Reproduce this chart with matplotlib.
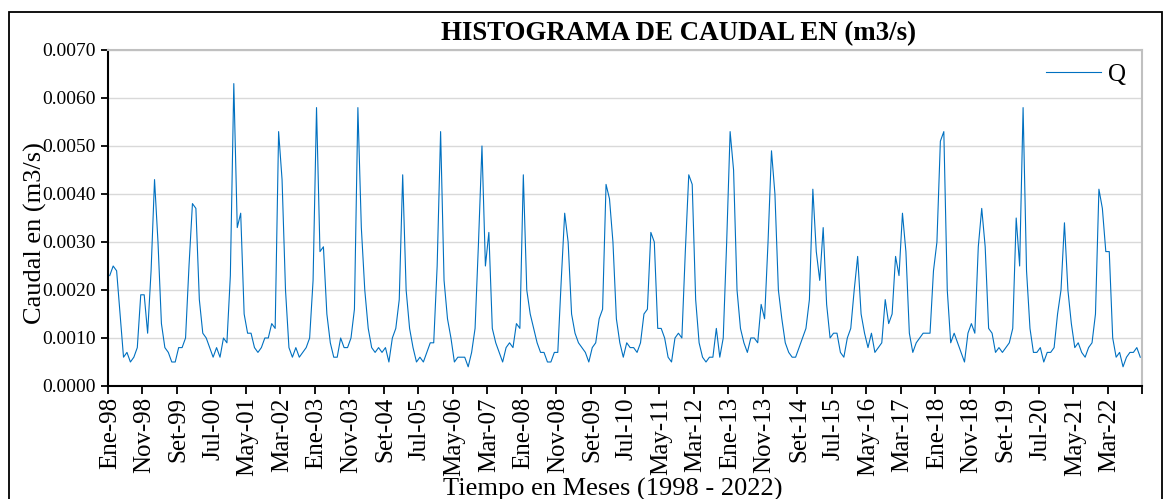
import matplotlib
matplotlib.use("Agg")
import matplotlib.pyplot as plt
from matplotlib.patches import Rectangle
import numpy as np

# Monthly discharge Q (m3/s), Jan-1998 .. Dec-2022 (in 1e-3 units)
q_milli = [
    2.3, 2.5, 2.4, 1.5, 0.6, 0.7, 0.5, 0.6, 0.8, 1.9, 1.9, 1.1,   # 1998
    2.4, 4.3, 3.0, 1.3, 0.8, 0.7, 0.5, 0.5, 0.8, 0.8, 1.0, 2.5,   # 1999
    3.8, 3.7, 1.8, 1.1, 1.0, 0.8, 0.6, 0.8, 0.6, 1.0, 0.9, 2.3,   # 2000
    6.3, 3.3, 3.6, 1.5, 1.1, 1.1, 0.8, 0.7, 0.8, 1.0, 1.0, 1.3,   # 2001
    1.2, 5.3, 4.3, 2.0, 0.8, 0.6, 0.8, 0.6, 0.7, 0.8, 1.0, 2.2,   # 2002
    5.8, 2.8, 2.9, 1.5, 0.9, 0.6, 0.6, 1.0, 0.8, 0.8, 1.0, 1.6,   # 2003
    5.8, 3.3, 2.0, 1.2, 0.8, 0.7, 0.8, 0.7, 0.8, 0.5, 1.0, 1.2,   # 2004
    1.8, 4.4, 2.0, 1.2, 0.8, 0.5, 0.6, 0.5, 0.7, 0.9, 0.9, 2.5,   # 2005
    5.3, 2.2, 1.4, 1.0, 0.5, 0.6, 0.6, 0.6, 0.4, 0.7, 1.2, 3.0,   # 2006
    5.0, 2.5, 3.2, 1.2, 0.9, 0.7, 0.5, 0.8, 0.9, 0.8, 1.3, 1.2,   # 2007
    4.4, 2.0, 1.5, 1.2, 0.9, 0.7, 0.7, 0.5, 0.5, 0.7, 0.7, 2.2,   # 2008
    3.6, 3.0, 1.5, 1.1, 0.9, 0.8, 0.7, 0.5, 0.8, 0.9, 1.4, 1.6,   # 2009
    4.2, 3.9, 3.0, 1.4, 0.9, 0.6, 0.9, 0.8, 0.8, 0.7, 0.9, 1.5,   # 2010
    1.6, 3.2, 3.0, 1.2, 1.2, 1.0, 0.6, 0.5, 1.0, 1.1, 1.0, 2.8,   # 2011
    4.4, 4.2, 1.8, 0.9, 0.6, 0.5, 0.6, 0.6, 1.2, 0.6, 1.0, 3.0,   # 2012
    5.3, 4.5, 2.0, 1.2, 0.9, 0.7, 1.0, 1.0, 0.9, 1.7, 1.4, 3.0,   # 2013
    4.9, 4.0, 2.0, 1.4, 0.9, 0.7, 0.6, 0.6, 0.8, 1.0, 1.2, 1.8,   # 2014
    4.1, 2.8, 2.2, 3.3, 1.7, 1.0, 1.1, 1.1, 0.7, 0.6, 1.0, 1.2,   # 2015
    2.0, 2.7, 1.5, 1.1, 0.8, 1.1, 0.7, 0.8, 0.9, 1.8, 1.3, 1.5,   # 2016
    2.7, 2.3, 3.6, 2.8, 1.1, 0.7, 0.9, 1.0, 1.1, 1.1, 1.1, 2.4,   # 2017
    3.0, 5.1, 5.3, 2.0, 0.9, 1.1, 0.9, 0.7, 0.5, 1.1, 1.3, 1.1,   # 2018
    2.9, 3.7, 2.9, 1.2, 1.1, 0.7, 0.8, 0.7, 0.8, 0.9, 1.2, 3.5,   # 2019
    2.5, 5.8, 2.4, 1.2, 0.7, 0.7, 0.8, 0.5, 0.7, 0.7, 0.8, 1.5,   # 2020
    2.0, 3.4, 2.0, 1.3, 0.8, 0.9, 0.7, 0.6, 0.8, 0.9, 1.5, 4.1,   # 2021
    3.7, 2.8, 2.8, 1.0, 0.6, 0.7, 0.4, 0.6, 0.7, 0.7, 0.8, 0.6,   # 2022
]
q_values = [v / 1000.0 for v in q_milli]

tick_labels = ["Ene-98", "Nov-98", "Set-99", "Jul-00", "May-01", "Mar-02",
               "Ene-03", "Nov-03", "Set-04", "Jul-05", "May-06", "Mar-07",
               "Ene-08", "Nov-08", "Set-09", "Jul-10", "May-11", "Mar-12",
               "Ene-13", "Nov-13", "Set-14", "Jul-15", "May-16", "Mar-17",
               "Ene-18", "Nov-18", "Set-19", "Jul-20", "May-21", "Mar-22"]
y_ticks = [0.0, 0.001, 0.002, 0.003, 0.004, 0.005, 0.006, 0.007]

plt.rcParams['font.family'] = ['Liberation Serif', 'DejaVu Serif']

W, H = 1169, 499
fig = plt.figure(figsize=(W / 100, H / 100), dpi=100)
fig.patch.set_facecolor("white")

# outer chart border
fig.patches.append(Rectangle((9 / W, -0.05), (1162 - 9) / W, 1.05 - 12 / H,
                             transform=fig.transFigure, fill=False,
                             edgecolor="black", linewidth=1.3))

left, right, top, bottom = 108, 1142, 50, 386
ax = fig.add_axes([left / W, 1 - bottom / H, (right - left) / W, (bottom - top) / H])

n = len(q_values)
x = np.arange(n)
ax.plot(x, q_values, color="#0070C0", linewidth=0.8, label="Q")

ax.set_xlim(-0.5, n - 0.5)
ax.set_ylim(0, 0.007)

ax.set_yticks(y_ticks)
ax.set_yticklabels([f"{v:.4f}" for v in y_ticks], fontsize=14)
ax.yaxis.grid(True, color="#d9d9d9", linewidth=1.0)
ax.set_axisbelow(True)

# x: ticks at category boundaries every 10 months, labels at categories
ax.set_xticks(np.arange(-0.5, n, 10))
ax.set_xticklabels([])
ax.set_xticks(np.arange(0, n, 10), minor=True)
ax.set_xticklabels(tick_labels, minor=True, rotation=90, fontsize=18)
ax.tick_params(axis="x", which="major", length=6, width=1.3, color="black", direction="out")
ax.tick_params(axis="x", which="minor", length=0, pad=8)
ax.tick_params(axis="y", length=5, width=1.3, color="black", direction="out", pad=4)

for s in ["left", "bottom"]:
    ax.spines[s].set_color("black")
    ax.spines[s].set_linewidth(1.5)
for s in ["top", "right"]:
    ax.spines[s].set_color("#c0c0c0")
    ax.spines[s].set_linewidth(1.5)

fig.text(35 / W, 1 - 233 / H, "Caudal en (m3/s)", fontsize=19, rotation=90,
         ha="center", va="center")
fig.text(613 / W, 1 - 489 / H, "Tiempo en Meses (1998 - 2022)", fontsize=19,
         ha="center", va="center")
fig.text(678 / W, 1 - 34 / H, "HISTOGRAMA DE CAUDAL EN (m3/s)", fontsize=19.4,
         fontweight="bold", ha="center", va="center")

leg = ax.legend(loc="upper right", frameon=False, fontsize=18,
                handlelength=2.2, handletextpad=0.3, borderpad=0,
                borderaxespad=0, bbox_to_anchor=(0.985, 0.96))

fig.savefig("out.png", dpi=100)
